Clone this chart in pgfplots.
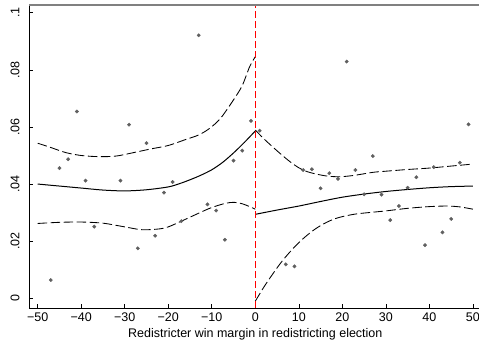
\documentclass[border=0pt]{standalone}
\usepackage{fontspec}
\setmainfont{Liberation Sans}
\usepackage{pgfplots}
\pgfplotsset{compat=1.18}
\definecolor{stgray}{RGB}{128,128,128}
\definecolor{ptgray}{RGB}{95,95,95}
\begin{document}
\begin{tikzpicture}[x=1pt,y=1pt]
\useasboundingbox (0,0) rectangle (479,345);
\begin{axis}[
  at={(29pt,37pt)}, anchor=south west,
  scale only axis, width=450pt, height=303pt,
  xmin=-52, xmax=51.4, ymin=-0.0034, ymax=0.1027,
  axis x line=bottom, axis y line=left,
  axis line style={-, black, line width=0.8pt},
  tick align=inside, major tick length=4pt,
  tick style={black, line width=0.6pt},
  xtick={-50,-40,-30,-20,-10,0,10,20,30,40,50},
  xticklabels={−50,−40,−30,−20,−10,0,10,20,30,40,50},
  ytick={0,0.02,0.04,0.06,0.08,0.1},
  yticklabels={0,.02,.04,.06,.08,.1},
  ticklabel style={font=\fontsize{12.5}{14}\selectfont},
  xticklabel style={yshift=-1pt},
  yticklabel style={xshift=-6pt, rotate=90, anchor=south},
  xlabel={Redistricter win margin in redistricting election},
  xlabel style={font=\fontsize{12.5}{14}\selectfont, at={(ticklabel cs:0.5029)}, anchor=north},
  clip=false,
]
% scatter points
\addplot[only marks, mark=*, mark size=1.7pt, color=ptgray] coordinates {
(-47,0.0064) (-45,0.0456) (-43,0.0487) (-41,0.0654) (-39,0.0412) (-37,0.0251)
(-31,0.0412) (-29,0.0608) (-27,0.0175) (-25,0.0543) (-23,0.0219) (-21,0.0370)
(-19,0.0407) (-17,0.0270) (-13,0.0921) (-11,0.0329) (-9,0.0307) (-7,0.0205)
(-5,0.0482) (-3,0.0517) (-1,0.0621)
(1,0.0587) (7,0.0119) (9,0.0112) (11,0.0449) (13,0.0452) (15,0.0385) (17,0.0438)
(19,0.0418) (21,0.0829) (23,0.0449) (25,0.0364) (27,0.0498) (29,0.0363) (31,0.0274)
(33,0.0323) (35,0.0387) (37,0.0424) (39,0.0186) (41,0.0459) (43,0.0231) (45,0.0278)
(47,0.0475) (49,0.0609)
};
% left fit
\addplot[black, line width=1pt, smooth] coordinates {
(-50,0.0400) (-45,0.0393) (-40,0.0386) (-35,0.0379) (-30,0.0376) (-25,0.0380)
(-20,0.0390) (-17.5,0.0401) (-15,0.0415) (-12.5,0.0431) (-10,0.0450) (-7.5,0.0476)
(-5,0.0509) (-2.5,0.0546) (0,0.0586)
};
% left upper CI
\addplot[black, line width=0.85pt, dash pattern=on 9.5pt off 3.5pt, smooth] coordinates {
(-50,0.0543) (-47,0.0528) (-43.5,0.0510) (-40,0.0500) (-36,0.0496) (-32,0.0498)
(-28,0.0510) (-24,0.0523) (-20,0.0535) (-16,0.0556) (-13,0.0572) (-10.5,0.0595)
(-8,0.0630) (-5,0.0695) (-3,0.0745) (-1.3,0.0811) (0,0.0846)
};
% left lower CI
\addplot[black, line width=0.85pt, dash pattern=on 9.5pt off 3.5pt, smooth] coordinates {
(-50,0.0262) (-45,0.0266) (-40,0.0267) (-35,0.0263) (-30,0.0250) (-26,0.0240)
(-22,0.0243) (-20,0.0250) (-17,0.0270) (-15,0.0284) (-12,0.0305) (-10,0.0318)
(-7,0.0332) (-5,0.0336) (-3,0.0331) (-1.3,0.0321) (0,0.0312)
};
% right fit
\addplot[black, line width=1pt, smooth] coordinates {
(0,0.0294) (5,0.0309) (10,0.0323) (15,0.0339) (20,0.0354) (25,0.0365) (30,0.0374)
(35,0.0381) (40,0.0387) (45,0.0391) (50,0.0393)
};
% right upper CI
\addplot[black, line width=0.85pt, dash pattern=on 9.5pt off 3.5pt, smooth] coordinates {
(0,0.0589) (2,0.0558) (4,0.0530) (6,0.0503) (8,0.0478) (10,0.0457) (12,0.0443)
(14,0.0435) (16,0.0429) (18,0.0426) (20,0.0426) (23,0.0431) (27,0.0441) (30,0.0445)
(35,0.0451) (40,0.0456) (45,0.0463) (50,0.0470)
};
% right lower CI
\addplot[black, line width=0.85pt, dash pattern=on 9.5pt off 3.5pt, smooth] coordinates {
(0,-0.0010) (2,0.0040) (4,0.0085) (6,0.0127) (8,0.0163) (10,0.0195) (12,0.0222)
(14,0.0245) (16,0.0263) (18,0.0277) (20,0.0286) (23,0.0295) (26,0.0300) (30,0.0306)
(35,0.0315) (40,0.0321) (44,0.0323) (47,0.0320) (50,0.0312)
};
% cutoff line
\addplot[red, line width=0.9pt, dash pattern=on 7pt off 3pt] coordinates {(0,-0.0034) (0,0.1027)};
\draw[stgray, line width=1.6pt] (rel axis cs:0,1) -- (rel axis cs:1,1);
\end{axis}
\end{tikzpicture}
\end{document}
